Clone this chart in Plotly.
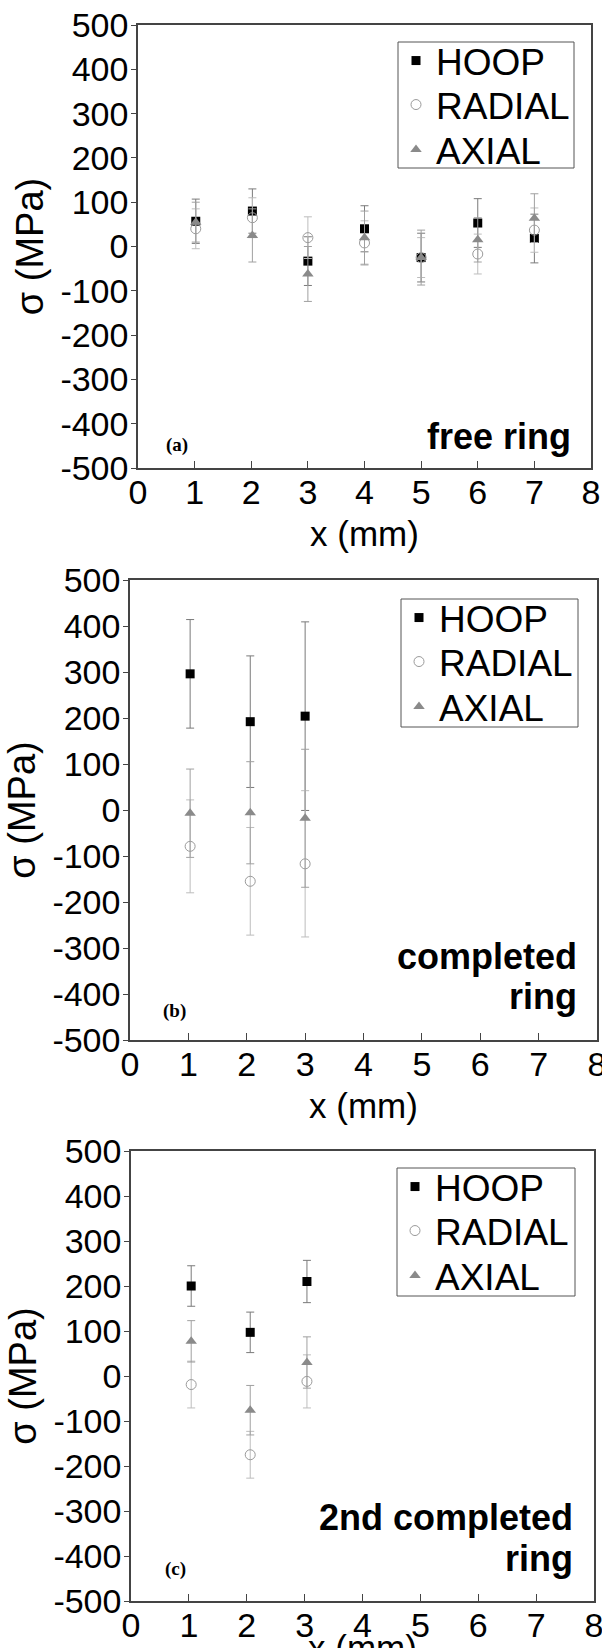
import plotly.graph_objects as go

# ---------------- data ----------------
series_names = ["HOOP", "RADIAL", "AXIAL"]

# (a) free ring
x_a = [1.02, 2.02, 3.0, 4.0, 5.0, 6.0, 7.0]
hoop_a = [57, 80, -33, 40, -25, 53, 18]
hoop_a_err = [50, 50, 55, 52, 55, 55, 55]
radial_a = [40, 65, 20, 8, -25, -17, 37]
radial_a_err = [45, 45, 47, 50, 45, 45, 50]
axial_a = [55, 25, -62, 20, -25, 15, 64]
axial_a_err = [45, 60, 62, 60, 62, 50, 55]

# (b) completed ring
x_b = [1.03, 2.06, 3.0]
hoop_b = [296, 192, 204]
hoop_b_err = [118, 143, 205]
radial_b = [-79, -155, -117]
radial_b_err = [101, 117, 159]
axial_b = [-7, -6, -18]
axial_b_err = [96, 111, 150]

# (c) 2nd completed ring
x_c = [1.04, 2.06, 3.04]
hoop_c = [200, 97, 210]
hoop_c_err = [45, 45, 47]
radial_c = [-19, -175, -12]
radial_c_err = [52, 52, 59]
axial_c = [77, -76, 30]
axial_c_err = [46, 55, 57]

panel_tags = ["(a)", "(b)", "(c)"]
panel_title_lines = [["free ring"], ["completed", "ring"], ["2nd completed", "ring"]]
x_title = "x (mm)"
y_title = "σ (MPa)"

y_tick_vals = [-500, -400, -300, -200, -100, 0, 100, 200, 300, 400, 500]
y_tick_text = ["-500", "-400", "-300", "-200", "-100", "0", "100", "200", "300", "400", "500"]
x_tick_vals = [0, 1, 2, 3, 4, 5, 6, 7, 8]

# ---------------- layout geometry (page pixels) ----------------
W, H = 602, 1648
panels_px = [  # left, right, top, bottom
    (138, 591, 25, 468),
    (130, 597, 580, 1040),
    (131, 594, 1151, 1601),
]
legend_box_px = [(398, 574, 42, 168), (401, 578, 599, 727), (397, 575, 1168, 1296)]
legend_row_offsets = [19, 63, 108]
# annotation placements in data coordinates
tag_pos = [(0.68, -447), (0.77, -437), (0.77, -428)]
title_right_x = [7.68, 7.7, 7.68]
title_line_y = [[-428], [-318, -405], [-315, -405]]
last_xtitle_top_px = 1626  # bottom panel's x title is cut by the page edge

FONT = "Liberation Sans, Arial, sans-serif"
styles = {
    "HOOP": dict(symbol="square", color="#000000", size=9, line=dict(width=0), err="#7a7a7a"),
    "RADIAL": dict(symbol="circle-open", color="#9a9a9a", size=10, line=dict(width=1, color="#9a9a9a"), err="#bdbdbd"),
    "AXIAL": dict(symbol="triangle-up", color="#8a8a8a", size=10, line=dict(width=0), err="#a0a0a0"),
}

data_sets = [
    (x_a, [(hoop_a, hoop_a_err), (radial_a, radial_a_err), (axial_a, axial_a_err)]),
    (x_b, [(hoop_b, hoop_b_err), (radial_b, radial_b_err), (axial_b, axial_b_err)]),
    (x_c, [(hoop_c, hoop_c_err), (radial_c, radial_c_err), (axial_c, axial_c_err)]),
]


def fx(px):
    return px / W


def fy(py):
    return 1 - py / H


fig = go.Figure()
layout = dict(width=W, height=H, margin=dict(l=0, r=0, t=0, b=0, pad=0), autosize=False,
              paper_bgcolor="white", plot_bgcolor="white", font=dict(family=FONT, color="black"))
annotations = []
shapes = []

for i, ((xs, ser), (l, r, t, b), (bl, br, bt, bb)) in enumerate(zip(data_sets, panels_px, legend_box_px)):
    k = "" if i == 0 else str(i + 1)
    last = i == len(data_sets) - 1
    for j, (name, (ys, es)) in enumerate(zip(series_names, ser)):
        st = styles[name]
        n = 3 * i + j + 1
        leg = "legend" if n == 1 else f"legend{n}"
        fig.add_trace(go.Scatter(
            x=xs, y=ys, mode="markers", name=name,
            xaxis="x" + k, yaxis="y" + k, legend=leg,
            marker=dict(symbol=st["symbol"], color=st["color"], size=st["size"], line=st["line"]),
            error_y=dict(type="data", array=es, visible=True, color=st["err"], thickness=1, width=4),
        ))
        layout[leg] = dict(
            x=fx(bl - 2), y=fy(bt + legend_row_offsets[j]), xanchor="left", yanchor="middle",
            xref="paper", yref="paper", borderwidth=0, bgcolor="rgba(0,0,0,0)",
            font=dict(size=37, family=FONT), itemsizing="trace",
        )
    shapes.append(dict(type="rect", xref="paper", yref="paper",
                       x0=fx(bl), x1=fx(br), y0=fy(bb), y1=fy(bt),
                       line=dict(color="#555", width=1), fillcolor="rgba(0,0,0,0)", layer="above"))
    layout["xaxis" + k] = dict(
        domain=[fx(l), fx(r)], range=[0, 8], anchor="y" + k, tickvals=x_tick_vals,
        ticks="inside", ticklen=7, tickwidth=1, tickcolor="#444", automargin=False,
        ticklabelstandoff=-7, ticklabeloverflow="allow",
        showline=True, linecolor="#444", linewidth=1.5, mirror=True,
        showgrid=False, zeroline=False, tickfont=dict(size=34, family=FONT),
        title=dict(text="" if last else x_title, font=dict(size=35, family=FONT), standoff=12),
    )
    layout["yaxis" + k] = dict(
        domain=[fy(b), fy(t)], range=[-500, 500], anchor="x" + k, tickvals=y_tick_vals, ticktext=y_tick_text,
        ticks="outside", ticklen=5, tickwidth=1, tickcolor="#444", automargin=False,
        ticklabelstandoff=-4, ticklabeloverflow="allow",
        showline=True, linecolor="#444", linewidth=1.5, mirror=True,
        showgrid=False, zeroline=False, tickfont=dict(size=34, family=FONT),
        title=dict(text=y_title, font=dict(size=38, family=FONT), standoff=5),
    )
    if last:
        annotations.append(dict(
            text=x_title, xref="x" + k + " domain", yref="paper", x=0.5, y=fy(last_xtitle_top_px),
            xanchor="center", yanchor="top", showarrow=False,
            font=dict(size=35, family=FONT, color="black"),
        ))
    annotations.append(dict(
        text="<b>" + panel_tags[i] + "</b>", xref="x" + k, yref="y" + k,
        x=tag_pos[i][0], y=tag_pos[i][1], xanchor="center", yanchor="middle", showarrow=False,
        font=dict(size=19, family="Liberation Serif, Times New Roman, serif", color="black"),
    ))
    for line, yv in zip(panel_title_lines[i], title_line_y[i]):
        annotations.append(dict(
            text="<b>" + line + "</b>", xref="x" + k, yref="y" + k,
            x=title_right_x[i], y=yv, xanchor="right", yanchor="middle", showarrow=False,
            font=dict(size=36, family=FONT, color="black"),
        ))

layout["annotations"] = annotations
layout["shapes"] = shapes
layout["showlegend"] = True
fig.update_layout(**layout)
fig.write_html("out.html", config={"displayModeBar": False},
               post_script="document.body.style.margin='0px';document.body.style.padding='0px';")
